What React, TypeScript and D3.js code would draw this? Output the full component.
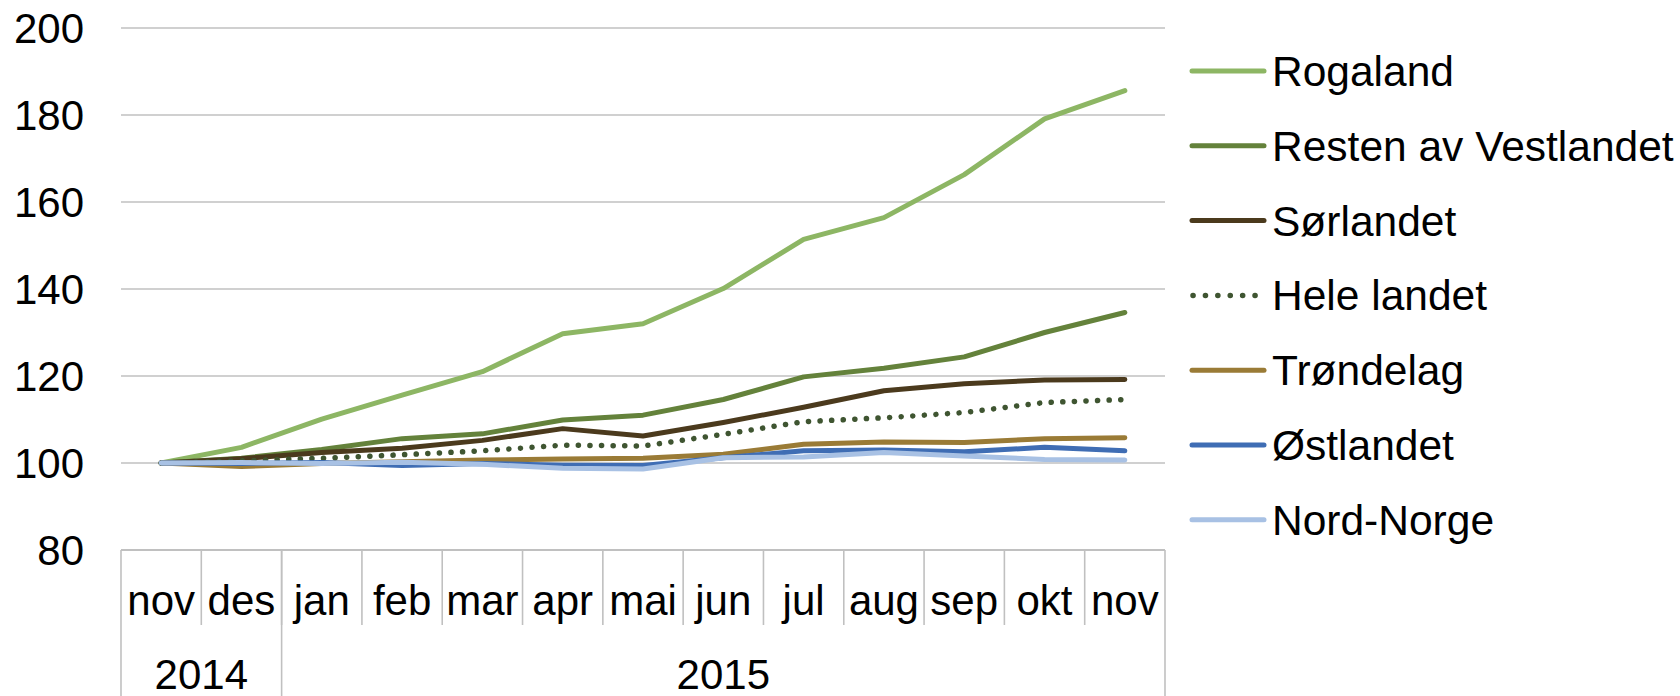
import React from "react";
import * as d3 from "d3";

const months = ["nov", "des", "jan", "feb", "mar", "apr", "mai", "jun", "jul", "aug", "sep", "okt", "nov"];
const years = [
  { label: "2014", start: 0, end: 2 },
  { label: "2015", start: 2, end: 13 },
];
const yTicks = [80, 100, 120, 140, 160, 180, 200];

const rogaland = [100, 103.6, 110.1, 115.6, 121, 129.7, 132, 140.1, 151.4, 156.4, 166.3, 179.1, 185.6];
const restenVestlandet = [100, 101.1, 103.1, 105.6, 106.7, 109.9, 111, 114.6, 119.8, 121.8, 124.4, 130.0, 134.6];
const sorlandet = [100, 101.0, 102.4, 103.4, 105.2, 107.9, 106.2, 109.3, 112.8, 116.6, 118.2, 119.1, 119.2];
const heleLandet = [100, 100.5, 101.1, 101.9, 102.8, 104.1, 103.9, 106.6, 109.5, 110.4, 111.6, 113.9, 114.6];
const trondelag = [100, 99.2, 99.9, 100.3, 100.7, 100.9, 101.1, 102.0, 104.3, 104.8, 104.7, 105.6, 105.8];
const ostlandet = [100, 99.9, 100.1, 99.4, 99.9, 99.5, 99.4, 101.2, 102.8, 103.0, 102.6, 103.6, 102.8];
const nordNorge = [100, 100.1, 99.9, 100.2, 99.7, 98.8, 98.6, 101.2, 101.4, 102.4, 101.6, 100.8, 100.7];

const seriesNames = ["Rogaland", "Resten av Vestlandet", "Sørlandet", "Hele landet", "Trøndelag", "Østlandet", "Nord-Norge"];
const seriesValues = [rogaland, restenVestlandet, sorlandet, heleLandet, trondelag, ostlandet, nordNorge];
const seriesColors = ["#8DB664", "#64823B", "#4B3A1D", "#3F5531", "#9A7B36", "#3F6DB4", "#A8C1E4"];
const seriesDotted = [false, false, false, true, false, false, false];

export default function App() {
  const W = 1680;
  const H = 696;
  const left = 121;
  const right = 1165;
  const top = 28;
  const bottom = 550;

  const x = d3.scaleBand<number>().domain(d3.range(months.length)).range([left, right]).padding(0);
  const y = d3.scaleLinear().domain([80, 200]).range([bottom, top]);
  const bw = x.bandwidth();
  const cx = (i: number) => (x(i) as number) + bw / 2;

  const line = d3
    .line<number>()
    .x((_, i) => cx(i))
    .y((d) => y(d));

  const font = "'Liberation Sans', Arial, sans-serif";
  const grid = "#C0C0C0";
  const fs = 42;

  const monthBoundaries = d3.range(1, months.length);
  const yearBoundaries = [0, ...years.map((yr) => yr.end)];

  const legendX1 = 1192;
  const legendX2 = 1264;
  const legendY0 = 71;
  const legendStep = 74.8;

  return (
    <svg
      width={W}
      height={H}
      style={{ position: "absolute", left: 0, top: 0, display: "block", background: "#fff" }}
      fontFamily={font}
    >
      {/* gridlines */}
      {yTicks.filter((t) => t !== 80).map((t) => (
        <line key={t} x1={left} x2={right} y1={y(t)} y2={y(t)} stroke={grid} strokeWidth={1.6} />
      ))}
      {/* y tick labels */}
      {yTicks.map((t) => (
        <text key={t} x={84} y={y(t) + 15} fontSize={fs} textAnchor="end" fill="#000">
          {t}
        </text>
      ))}
      {/* category axis */}
      <line x1={left} x2={right} y1={bottom} y2={bottom} stroke={grid} strokeWidth={1.8} />
      {monthBoundaries.map((i) => (
        <line key={"mb" + i} x1={x(i) as number} x2={x(i) as number} y1={bottom} y2={625} stroke={grid} strokeWidth={1.6} />
      ))}
      {yearBoundaries.map((i) => {
        const xx = i >= months.length ? right : (x(i) as number);
        return <line key={"yb" + i} x1={xx} x2={xx} y1={bottom} y2={H} stroke={grid} strokeWidth={1.6} />;
      })}
      {months.map((m, i) => (
        <text key={"m" + i} x={cx(i)} y={615} fontSize={fs} textAnchor="middle" fill="#000">
          {m}
        </text>
      ))}
      {years.map((yr) => {
        const x0 = x(yr.start) as number;
        const x1 = yr.end >= months.length ? right : (x(yr.end) as number);
        return (
          <text key={yr.label} x={(x0 + x1) / 2} y={689} fontSize={fs} textAnchor="middle" fill="#000">
            {yr.label}
          </text>
        );
      })}
      {/* series */}
      {seriesValues.map((vals, si) => (
        <path
          key={seriesNames[si]}
          d={line(vals) as string}
          fill="none"
          stroke={seriesColors[si]}
          strokeWidth={seriesDotted[si] ? 5.5 : 5}
          strokeLinecap="round"
          strokeLinejoin="round"
          strokeDasharray={seriesDotted[si] ? "0.1 11.5" : undefined}
        />
      ))}
      {/* legend */}
      {seriesNames.map((name, si) => {
        const ly = legendY0 + si * legendStep;
        return (
          <g key={"lg" + name}>
            <line
              x1={legendX1 + (seriesDotted[si] ? 1 : 0)}
              x2={legendX2}
              y1={ly}
              y2={ly}
              stroke={seriesColors[si]}
              strokeWidth={seriesDotted[si] ? 5.5 : 5}
              strokeLinecap="round"
              strokeDasharray={seriesDotted[si] ? "0.1 12.3" : undefined}
            />
            <text x={1272} y={ly + 15} fontSize={42.5} fill="#000">
              {name}
            </text>
          </g>
        );
      })}
    </svg>
  );
}
